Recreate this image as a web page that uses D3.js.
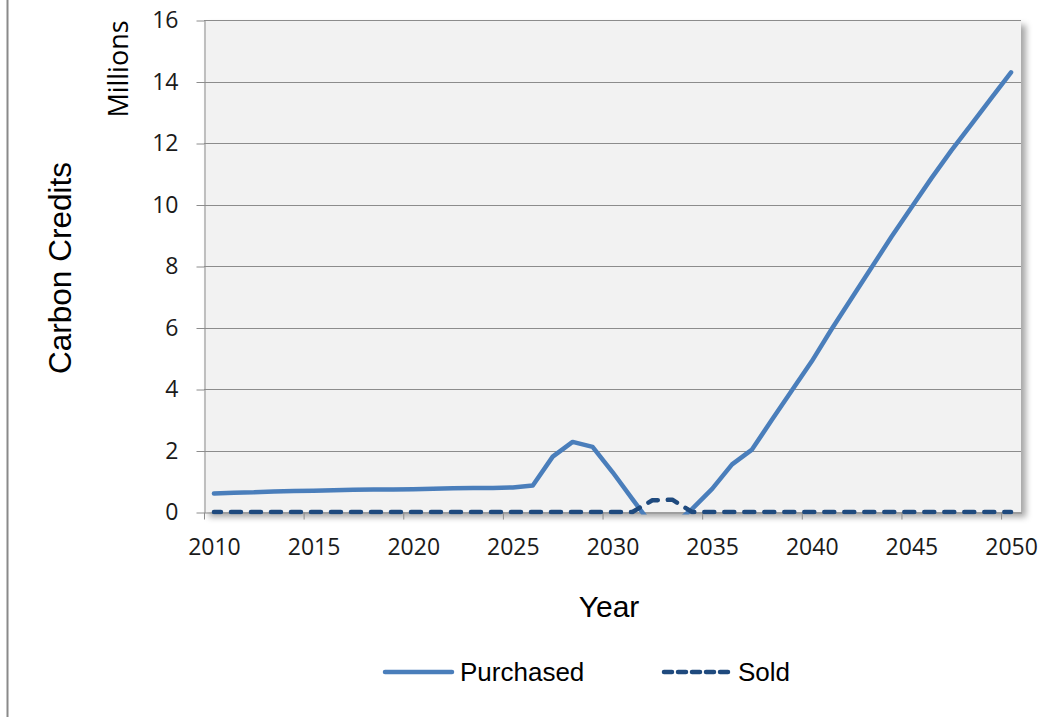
<!DOCTYPE html>
<html>
<head>
<meta charset="utf-8">
<script src="https://cdn.jsdelivr.net/npm/d3@7"></script>
<style>
  html, body { margin: 0; padding: 0; background: #ffffff; }
  svg { display: block; }
</style>
</head>
<body>
<svg id="chart" width="1058" height="717"></svg>
<script>
// ---- data ----
const years = [2010, 2011, 2012, 2013, 2014, 2015, 2016, 2017, 2018, 2019,
               2020, 2021, 2022, 2023, 2024, 2025, 2026, 2027, 2028, 2029,
               2030, 2031, 2032, 2033, 2034, 2035, 2036, 2037, 2038, 2039,
               2040, 2041, 2042, 2043, 2044, 2045, 2046, 2047, 2048, 2049, 2050];
// millions of carbon credits (values below the axis minimum are clipped, as in the source)
const purchased = [0.60, 0.63, 0.64, 0.67, 0.68, 0.69, 0.71, 0.72, 0.73, 0.73,
                   0.74, 0.76, 0.77, 0.78, 0.78, 0.80, 0.86, 1.80, 2.28, 2.12,
                   1.30, 0.42, -0.45, -0.45, 0.10, 0.75, 1.55, 2.03, 3.00, 3.95,
                   4.90, 5.95, 6.95, 7.95, 8.95, 9.90, 10.85, 11.75, 12.60, 13.45, 14.30];
const sold = [0, 0, 0, 0, 0, 0, 0, 0, 0, 0,
              0, 0, 0, 0, 0, 0, 0, 0, 0, 0,
              0, 0, 0.38, 0.40, 0, 0, 0, 0, 0, 0,
              0, 0, 0, 0, 0, 0, 0, 0, 0, 0, 0];
const yTicks = [0, 2, 4, 6, 8, 10, 12, 14, 16];
const xLabelYears = [2010, 2015, 2020, 2025, 2030, 2035, 2040, 2045, 2050];
const seriesNames = ["Purchased", "Sold"];

// ---- layout ----
const svg = d3.select("#chart");
const plot = { left: 204, right: 1021, top: 20, bottom: 512 };
const tickFont = "'Open Sans', 'Liberation Sans', sans-serif";
const titleFont = "'Liberation Sans', Arial, sans-serif";
const colPurchased = "#4a7ebb";
const colSold = "#1f4a7e";

const x = d3.scaleBand().domain(years).range([plot.left, plot.right]).padding(0);
const bw = x.bandwidth();
const y = d3.scaleLinear().domain([0, 16]).range([plot.bottom, plot.top]);
const cx = d => x(d) + bw / 2;

// outer frame line on the left
svg.append("line").attr("x1", 7.5).attr("x2", 7.5).attr("y1", 0).attr("y2", 717)
   .attr("stroke", "#8a8a8a").attr("stroke-width", 2);

const defs = svg.append("defs");
const f = defs.append("filter").attr("id", "shadow")
  .attr("x", "-5%").attr("y", "-5%").attr("width", "115%").attr("height", "115%");
f.append("feDropShadow").attr("dx", 5).attr("dy", 5).attr("stdDeviation", 3)
  .attr("flood-color", "#000").attr("flood-opacity", 0.35);
defs.append("clipPath").attr("id", "plotclip").append("rect")
  .attr("x", plot.left).attr("y", plot.top - 10)
  .attr("width", plot.right - plot.left + 10).attr("height", plot.bottom - plot.top + 12.5);

// plot background with shadow
svg.append("rect")
  .attr("x", plot.left).attr("y", plot.top)
  .attr("width", plot.right - plot.left).attr("height", plot.bottom - plot.top)
  .attr("fill", "#f2f2f2").attr("filter", "url(#shadow)");

// gridlines
svg.append("g").selectAll("line").data(yTicks.filter(t => t > 0)).join("line")
  .attr("x1", plot.left).attr("x2", plot.right)
  .attr("y1", d => Math.round(y(d)) + 0.5).attr("y2", d => Math.round(y(d)) + 0.5)
  .attr("stroke", "#8c8c8c").attr("stroke-width", 1);

// y axis
const yAxis = svg.append("g").attr("transform", `translate(${plot.left + 0.5},0.5)`)
  .call(d3.axisLeft(y).tickValues(yTicks).tickSize(8).tickPadding(18).tickSizeOuter(0));
yAxis.select(".domain").attr("stroke", "#8c8c8c");
yAxis.selectAll(".tick line").attr("stroke", "#8c8c8c");
yAxis.selectAll(".tick text").attr("font-family", tickFont).attr("font-size", 23)
  .attr("fill", "#1a1a1a");

// x axis
const xAxis = svg.append("g").attr("transform", `translate(0.5,${plot.bottom + 0.5})`)
  .call(d3.axisBottom(x).tickValues(xLabelYears).tickSize(7).tickPadding(19).tickSizeOuter(0));
xAxis.select(".domain").attr("stroke", "#8c8c8c");
xAxis.selectAll(".tick line").attr("stroke", "#8c8c8c")
  .attr("x1", -bw / 2).attr("x2", -bw / 2);
xAxis.selectAll(".tick text").attr("font-family", tickFont).attr("font-size", 23)
  .attr("fill", "#1a1a1a");

// lines
const lineGen = d3.line().x((d, i) => cx(years[i])).y(d => y(d));
const g = svg.append("g").attr("clip-path", "url(#plotclip)");
g.append("path").datum(purchased).attr("d", lineGen)
  .attr("fill", "none").attr("stroke", colPurchased).attr("stroke-width", 4.5)
  .attr("stroke-linejoin", "round").attr("stroke-linecap", "round");
g.append("path").datum(sold).attr("d", lineGen)
  .attr("fill", "none").attr("stroke", colSold).attr("stroke-width", 4.5)
  .attr("stroke-dasharray", "10,10").attr("stroke-dashoffset", 3)
  .attr("stroke-linejoin", "round").attr("stroke-linecap", "round");

// titles
svg.append("text").attr("transform", "translate(128,69) rotate(-90)")
  .attr("text-anchor", "middle").attr("font-family", tickFont).attr("font-size", 27)
  .attr("fill", "#000").text("Millions");
svg.append("text").attr("transform", "translate(71,268) rotate(-90)")
  .attr("text-anchor", "middle").attr("font-family", titleFont).attr("font-size", 31.5)
  .attr("fill", "#000").text("Carbon Credits");
svg.append("text").attr("x", 609).attr("y", 617)
  .attr("text-anchor", "middle").attr("font-family", titleFont).attr("font-size", 30)
  .attr("fill", "#000").text("Year");

// legend
const legend = svg.append("g");
const legItems = [
  { name: seriesNames[0], color: colPurchased, dash: null, x1: 385, x2: 452, tx: 460 },
  { name: seriesNames[1], color: colSold, dash: "8,6", x1: 664, x2: 731, tx: 738 }
];
legItems.forEach(it => {
  legend.append("line").attr("x1", it.x1).attr("x2", it.x2).attr("y1", 672).attr("y2", 672)
    .attr("stroke", it.color).attr("stroke-width", 4.5).attr("stroke-linecap", "round")
    .attr("stroke-dasharray", it.dash);
  legend.append("text").attr("x", it.tx).attr("y", 681)
    .attr("font-family", titleFont).attr("font-size", 26).attr("fill", "#000").text(it.name);
});
</script>
</body>
</html>
